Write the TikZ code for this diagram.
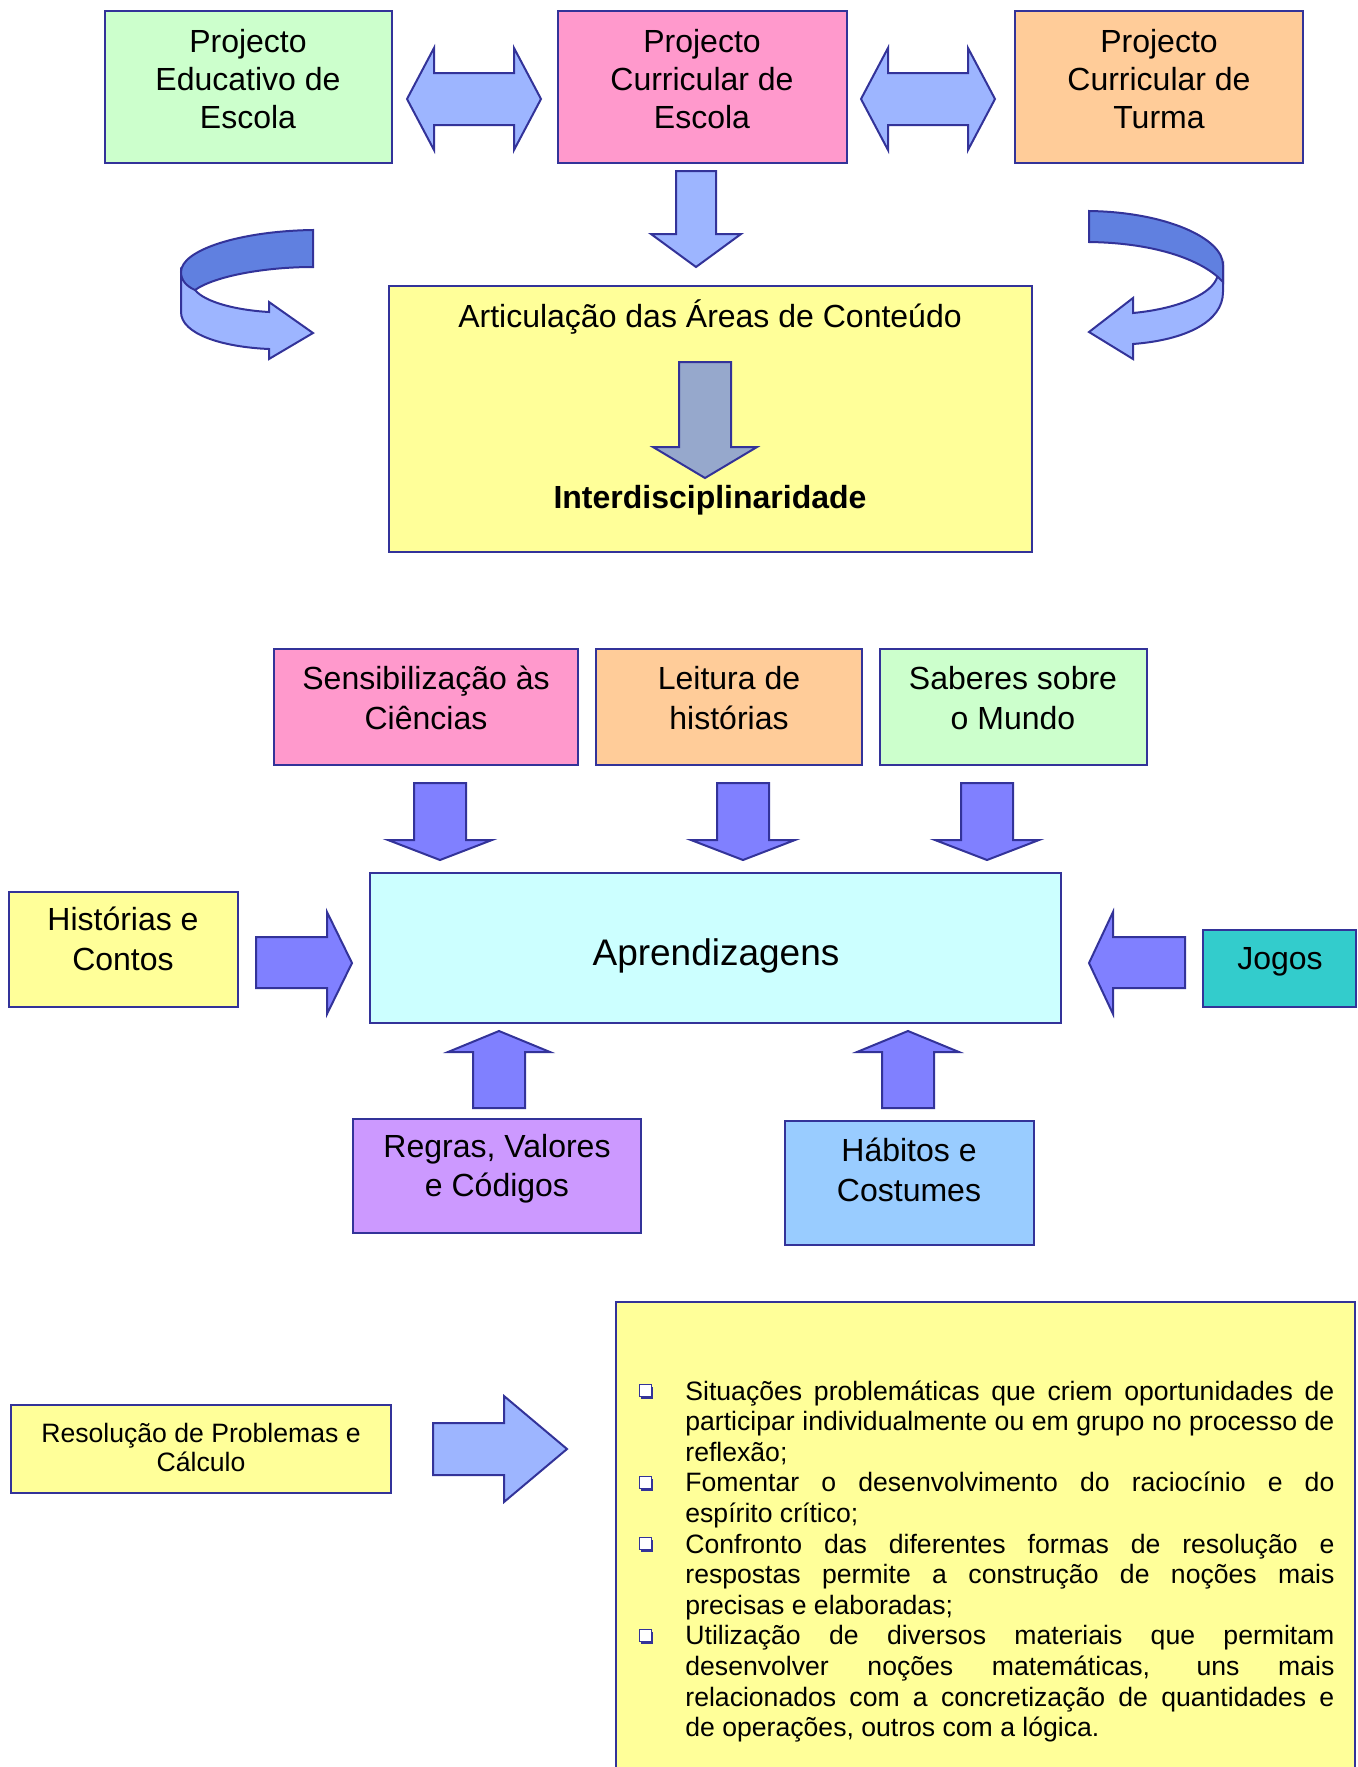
\documentclass[tikz,border=0pt]{standalone}
\usepackage{fontspec}
\setmainfont{Liberation Sans}
\usepackage{tikz}
\usepackage{xcolor}
\usetikzlibrary{positioning}

\definecolor{navy}{RGB}{51,51,153}
\definecolor{boxgreen}{RGB}{204,255,204}
\definecolor{boxpink}{RGB}{255,153,204}
\definecolor{boxpeach}{RGB}{255,204,153}
\definecolor{boxyellow}{RGB}{255,255,153}
\definecolor{boxcyan}{RGB}{204,255,255}
\definecolor{boxteal}{RGB}{51,204,204}
\definecolor{boxlilac}{RGB}{204,153,255}
\definecolor{boxsky}{RGB}{153,204,255}
\definecolor{arrlight}{RGB}{157,181,255}
\definecolor{arrdark}{RGB}{96,128,224}
\definecolor{arrmid}{RGB}{128,128,255}
\definecolor{arrgrey}{RGB}{150,168,204}

\tikzset{
  box/.style={draw=navy, line width=1pt},
  blockarr/.style={draw=navy, line width=1pt, line join=miter},
  txt/.style={inner sep=0pt, align=center, font=\fontsize{16}{18.9}\selectfont},
  smalltxt/.style={inner sep=0pt, align=center, font=\fontsize{13.3}{14.5}\selectfont}
}

\newcommand{\sqbul}{\tikz[baseline=0pt]{\fill[navy] (1.2pt,0.6pt) rectangle (7.4pt,6.6pt);
  \filldraw[fill=white, draw=navy, line width=0.6pt] (0.3pt,1.6pt) rectangle (6.3pt,7.6pt);}}

\begin{document}
\begin{tikzpicture}[x=0.5pt, y=-0.5pt]
            \clip (0,0) rectangle (1357,1767);
            % projectos
            \draw[box, fill=boxgreen] (105,11) rectangle (392,163);
            \draw[box, fill=boxpink] (558,11) rectangle (847,163);
            \draw[box, fill=boxpeach] (1015,11) rectangle (1303,163);
            \node[txt] (pee) at (248,79) {Projecto\\Educativo de\\Escola};
            \node[txt] (pce) at (702,79) {Projecto\\Curricular de\\Escola};
            \node[txt] (pct) at (1159,79) {Projecto\\Curricular de\\Turma};
            \filldraw[blockarr, fill=arrlight] (407,99) -- (434,48) -- (434,73) -- (514,73) -- (514,48) -- (541,99) -- (514,150) -- (514,125) -- (434,125) -- (434,150) -- cycle;
            \filldraw[blockarr, fill=arrlight] (861,99) -- (888,48) -- (888,73) -- (968,73) -- (968,48) -- (995,99) -- (968,150) -- (968,125) -- (888,125) -- (888,150) -- cycle;
            \filldraw[blockarr, fill=arrlight] (676,171) -- (716,171) -- (716,234) -- (741,234) -- (696,267) -- (651,234) -- (676,234) -- cycle;
            % curved arrows
            \filldraw[blockarr, fill=arrlight] (181,270) -- (181,312) .. controls (181,334) and (222,347) .. (269,349) -- (269,359) -- (313,333) -- (269,302) -- (269,312) .. controls (235,310) and (205,302) .. (195,290) -- cycle;
            \filldraw[blockarr, fill=arrdark] (313,230) .. controls (240,231) and (181,250) .. (181,272) .. controls (181,280) and (186,286) .. (195,290) .. controls (215,276) and (265,267) .. (313,267) -- cycle;
            \filldraw[blockarr, fill=arrlight] (1223,265) -- (1223,292) .. controls (1223,322) and (1185,340) .. (1133,344) -- (1133,359) -- (1089,332) -- (1133,298) -- (1133,313) .. controls (1175,309) and (1208,296) .. (1216,280) -- cycle;
            \filldraw[blockarr, fill=arrdark] (1089,211) .. controls (1165,212) and (1223,238) .. (1223,265) -- (1223,282) .. controls (1205,262) and (1160,243) .. (1089,242) -- cycle;
            % articulacao
            \draw[box, fill=boxyellow] (389,286) rectangle (1032,552);
            \node[txt] (art) at (710,317) {Articulação das Áreas de Conteúdo};
            \filldraw[blockarr, fill=arrgrey] (679,362) -- (731,362) -- (731,447) -- (757,447) -- (705,478) -- (653,447) -- (679,447) -- cycle;
            \node[txt, font=\fontsize{16}{18.9}\selectfont\bfseries] (inter) at (710,500) {Interdisciplinaridade};
            % aprendizagens
            \draw[box, fill=boxpink] (274,649) rectangle (578,765);
            \draw[box, fill=boxpeach] (596,649) rectangle (862,765);
            \draw[box, fill=boxgreen] (880,649) rectangle (1147,765);
            \node[txt] (sens) at (426,698) {Sensibilização às\\[0.8pt]Ciências};
            \node[txt] (leit) at (729,698) {Leitura de\\[0.8pt]histórias};
            \node[txt] (sab) at (1013,698) {Saberes sobre\\[0.8pt]o Mundo};
            \foreach \cx in {440,743,987}
              \filldraw[blockarr, fill=arrmid] (\cx-26,783) -- (\cx+26,783) -- (\cx+26,840) -- (\cx+52,840) -- (\cx,860) -- (\cx-52,840) -- (\cx-26,840) -- cycle;
            \draw[box, fill=boxcyan] (370,873) rectangle (1061,1023);
            \node[txt, font=\fontsize{18.5}{21}\selectfont] (apr) at (716,956) {Aprendizagens};
            \draw[box, fill=boxyellow] (9,892) rectangle (238,1007);
            \node[txt] (hist) at (123,939) {Histórias e\\[0.8pt]Contos};
            \filldraw[blockarr, fill=arrmid] (256,937) -- (327,937) -- (327,912) -- (352,963) -- (327,1014) -- (327,988) -- (256,988) -- cycle;
            \filldraw[blockarr, fill=arrmid] (1185,937) -- (1113,937) -- (1113,912) -- (1089,963) -- (1113,1014) -- (1113,988) -- (1185,988) -- cycle;
            \draw[box, fill=boxteal] (1203,930) rectangle (1356,1007);
            \node[txt] (jog) at (1280,962) {Jogos};
            \foreach \cx in {499,908}
              \filldraw[blockarr, fill=arrmid] (\cx-26,1108) -- (\cx+26,1108) -- (\cx+26,1052) -- (\cx+51,1052) -- (\cx,1031) -- (\cx-51,1052) -- (\cx-26,1052) -- cycle;
            \draw[box, fill=boxlilac] (353,1119) rectangle (641,1233);
            \draw[box, fill=boxsky] (785,1121) rectangle (1034,1245);
            \node[txt] (reg) at (497,1169) {Regras, Valores\\[0.8pt]e Códigos};
            \node[txt] (hab) at (909,1170) {Hábitos e\\[0.8pt]Costumes};
            % resolucao de problemas
            \draw[box, fill=boxyellow] (11,1405) rectangle (391,1493);
            \node[smalltxt] (res) at (201,1447) {Resolução de Problemas e\\Cálculo};
            \filldraw[blockarr, fill=arrlight] (433,1423) -- (504,1423) -- (504,1396) -- (567,1449) -- (504,1502) -- (504,1475) -- (433,1475) -- cycle;
            \draw[box, fill=boxyellow] (616,1302) rectangle (1355,1800);
            \node[anchor=north west, inner sep=0pt, text width=348pt, align=justify,
                  font=\fontsize{13.3}{15.3}\selectfont] (lst) at (638,1369) {%
              \hyphenpenalty=10000 \exhyphenpenalty=10000 \tolerance=9999 \hbadness=10000
              \begin{list}{\sqbul}{\setlength{\leftmargin}{23.5pt}\setlength{\labelwidth}{7.5pt}%
                \setlength{\labelsep}{16pt}\setlength{\topsep}{0pt}\setlength{\itemsep}{0pt}%
                \setlength{\parsep}{0pt}\setlength{\partopsep}{0pt}}
              \item Situações problemáticas que criem oportunidades de\linebreak
                participar individualmente ou em grupo no processo de\linebreak
                reflexão;
              \item Fomentar o desenvolvimento do raciocínio e do\linebreak
                espírito crítico;
              \item Confronto das diferentes formas de resolução e\linebreak
                respostas permite a construção de noções mais\linebreak
                precisas e elaboradas;
              \item Utilização de diversos materiais que permitam\linebreak
                desenvolver noções matemáticas, uns mais\linebreak
                relacionados com a concretização de quantidades e\linebreak
                de operações, outros com a lógica.
              \end{list}};
        \end{tikzpicture}
\end{document}
